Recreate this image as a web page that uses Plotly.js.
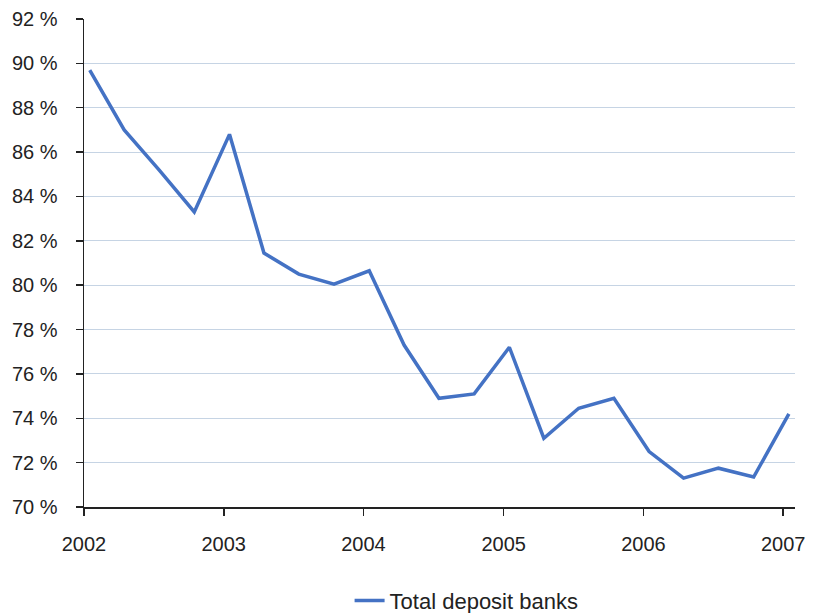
<!DOCTYPE html>
<html>
<head>
<meta charset="utf-8">
<script src="https://cdn.plot.ly/plotly-3.0.1.min.js"></script>
<style>html,body{margin:0;padding:0;background:#fff;overflow:hidden;}#chart{width:813px;height:613px;}</style>
</head>
<body>
<div id="chart"></div>
<script>
const dates = [
  '2002-01-16','2002-04-16','2002-07-16','2002-10-16',
  '2003-01-16','2003-04-16','2003-07-16','2003-10-16',
  '2004-01-16','2004-04-16','2004-07-16','2004-10-16',
  '2005-01-16','2005-04-16','2005-07-16','2005-10-16',
  '2006-01-16','2006-04-16','2006-07-16','2006-10-16',
  '2007-01-16'
];
const totalDepositBanks = [
  89.7, 87.0, 85.2, 83.3,
  86.8, 81.45, 80.5, 80.05,
  80.65, 77.3, 74.9, 75.1,
  77.2, 73.1, 74.45, 74.9,
  72.5, 71.3, 71.75, 71.35,
  74.2
];
const yTickVals = [70,72,74,76,78,80,82,84,86,88,90,92];
const yTickText = yTickVals.map(v => v + ' %');
const xTickVals = ['2002-01-01','2003-01-01','2004-01-01','2005-01-01','2006-01-01','2007-01-01'];
const xTickText = ['2002','2003','2004','2005','2006','2007'];

const font = {family: 'Liberation Sans, Arial, sans-serif', size: 20, color: '#222'};
const legendFont = {family: 'Liberation Sans, Arial, sans-serif', size: 22, color: '#222'};

Plotly.newPlot('chart', [{
  x: dates,
  y: totalDepositBanks,
  type: 'scatter',
  mode: 'lines',
  name: 'Total deposit banks',
  line: {color: '#4472c4', width: 3.5}
}], {
  width: 813, height: 613,
  margin: {l: 84, r: 18, t: 19, b: 106},
  paper_bgcolor: '#fff', plot_bgcolor: '#fff',
  font: font,
  showlegend: true,
  legend: {orientation: 'h', xref: 'container', yref: 'container',
           x: 0.43, xanchor: 'left', y: 0.02, yanchor: 'middle', font: legendFont},
  xaxis: {
    type: 'date',
    automargin: false,
    range: ['2002-01-01', '2007-02-01'],
    tickmode: 'array', tickvals: xTickVals, ticktext: xTickText,
    showgrid: false, zeroline: false,
    showline: true, linecolor: '#222', linewidth: 1.5,
    ticks: 'outside', ticklen: 7, tickcolor: '#222', tickwidth: 1.5,
    ticklabelstandoff: 11,
    tickfont: font
  },
  yaxis: {
    automargin: false,
    range: [70, 92],
    tickmode: 'array', tickvals: yTickVals, ticktext: yTickText,
    showgrid: true, gridcolor: '#c6d4e4', gridwidth: 1,
    zeroline: false,
    showline: true, linecolor: '#222', linewidth: 1.5,
    ticks: 'outside', ticklen: 7, tickcolor: '#222', tickwidth: 1.5,
    ticklabelstandoff: 14,
    tickfont: font
  }
}, {displayModeBar: false, staticPlot: true});
</script>
</body>
</html>
